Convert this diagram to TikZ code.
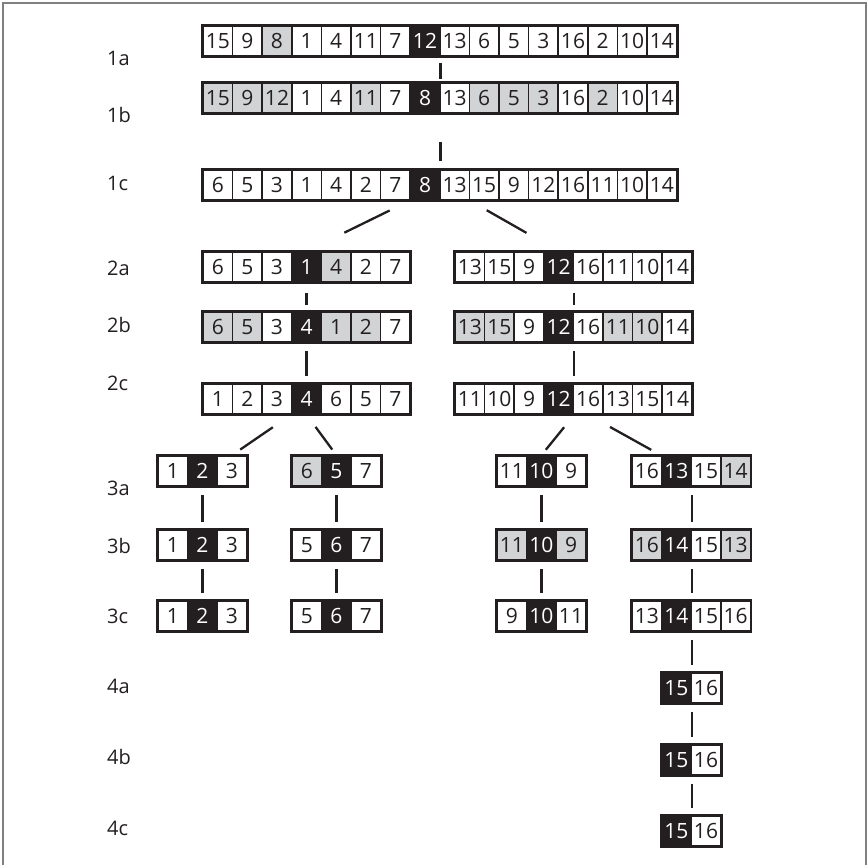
\documentclass[tikz,border=0pt]{standalone}
\usepackage{fontspec}
\setmainfont{Open Sans}
\usepackage{tikz}
\usetikzlibrary{positioning, calc}

\definecolor{ink}{HTML}{231F20}
\definecolor{shade}{HTML}{D1D3D4}
\definecolor{rulegray}{HTML}{808080}

\newcommand{\cw}{29.6}
% one array: name, left x, top y, list of value/kind
\newcommand{\cellrow}[4]{%
  \foreach \v/\k [count=\i] in {#4} {
    \node[cell, \k] (#1-\i) at ({#2+(\i-0.5)*\cw}, {#3+15}) {\v};
    \xdef\lastcell{\i}
  }
  \draw[arrbox] (#1-1.north west) rectangle (#1-\lastcell.south east);
}

\begin{document}
\begin{tikzpicture}[x=1pt, y=-1pt,
    cell/.style={draw=ink, line width=1.6pt, minimum width=\cw pt, minimum height=30pt,
      inner sep=0pt, text=ink, font=\fontsize{21}{24}\selectfont},
    pl/.style={fill=white},
    gr/.style={fill=shade},
    pv/.style={fill=ink, text=white},
    arrbox/.style={draw=ink, line width=2.4pt},
    lab/.style={anchor=west, inner sep=0pt, text=ink, font=\fontsize{20}{22}\selectfont},
    link/.style={draw=ink, line width=2.3pt},
    vlink/.style={link, shorten <=8pt, shorten >=7pt}]
\useasboundingbox (0,0) rectangle (868,865);
\draw[rulegray, line width=1.5pt] (3,870) -- (3,3) -- (866,3) -- (866,870);

% step labels
\node[lab] (l1a) at (107,58) {1a};
\node[lab] (l1b) at (107,115) {1b};
\node[lab] (l1c) at (107,183) {1c};
\node[lab] (l2a) at (107,268) {2a};
\node[lab] (l2b) at (107,325) {2b};
\node[lab] (l2c) at (107,383) {2c};
\node[lab] (l3a) at (107,488) {3a};
\node[lab] (l3b) at (107,546) {3b};
\node[lab] (l3c) at (107,616) {3c};
\node[lab] (l4a) at (107,686) {4a};
\node[lab] (l4b) at (107,757) {4b};
\node[lab] (l4c) at (107,828) {4c};

% level 1
\cellrow{r1a}{203}{26}{15/pl,9/pl,8/gr,1/pl,4/pl,11/pl,7/pl,12/pv,13/pl,6/pl,5/pl,3/pl,16/pl,2/pl,10/pl,14/pl}
\cellrow{r1b}{203}{83}{15/gr,9/gr,12/gr,1/pl,4/pl,11/gr,7/pl,8/pv,13/pl,6/gr,5/gr,3/gr,16/pl,2/gr,10/pl,14/pl}
\cellrow{r1c}{203}{170}{6/pl,5/pl,3/pl,1/pl,4/pl,2/pl,7/pl,8/pv,13/pl,15/pl,9/pl,12/pl,16/pl,11/pl,10/pl,14/pl}

% level 2
\cellrow{r2aL}{203}{252}{6/pl,5/pl,3/pl,1/pv,4/gr,2/pl,7/pl}
\cellrow{r2aR}{455}{252}{13/pl,15/pl,9/pl,12/pv,16/pl,11/pl,10/pl,14/pl}
\cellrow{r2bL}{203}{312}{6/gr,5/gr,3/pl,4/pv,1/gr,2/gr,7/pl}
\cellrow{r2bR}{455}{312}{13/gr,15/gr,9/pl,12/pv,16/pl,11/gr,10/gr,14/pl}
\cellrow{r2cL}{203}{384}{1/pl,2/pl,3/pl,4/pv,6/pl,5/pl,7/pl}
\cellrow{r2cR}{455}{384}{11/pl,10/pl,9/pl,12/pv,16/pl,13/pl,15/pl,14/pl}

% level 3
\cellrow{r3aA}{158}{456}{1/pl,2/pv,3/pl}
\cellrow{r3aB}{292}{456}{6/gr,5/pv,7/pl}
\cellrow{r3aC}{497}{456}{11/pl,10/pv,9/pl}
\cellrow{r3aD}{632}{456}{16/pl,13/pv,15/pl,14/gr}
\cellrow{r3bA}{158}{530}{1/pl,2/pv,3/pl}
\cellrow{r3bB}{292}{530}{5/pl,6/pv,7/pl}
\cellrow{r3bC}{497}{530}{11/gr,10/pv,9/gr}
\cellrow{r3bD}{632}{530}{16/gr,14/pv,15/pl,13/gr}
\cellrow{r3cA}{158}{601}{1/pl,2/pv,3/pl}
\cellrow{r3cB}{292}{601}{5/pl,6/pv,7/pl}
\cellrow{r3cC}{497}{601}{9/pl,10/pv,11/pl}
\cellrow{r3cD}{632}{601}{13/pl,14/pv,15/pl,16/pl}

% level 4
\cellrow{r4a}{661.6}{673}{15/pv,16/pl}
\cellrow{r4b}{661.6}{745}{15/pv,16/pl}
\cellrow{r4c}{661.6}{816}{15/pv,16/pl}

% connectors
\draw[link, shorten <=6pt, shorten >=3pt] (r1a-8.south east) -- (r1b-8.north east);
\draw[link, shorten <=28pt, shorten >=8pt] (r1b-8.south east) -- (r1c-8.north east);
\draw[link, shorten <=22pt, shorten >=42pt] (r1c-8.south west) -- (r2aL-4.north);
\draw[link, shorten <=19pt, shorten >=37pt] (r1c-9.south east) -- (r2aR-4.north);
\draw[link, shorten <=10pt, shorten >=6pt] (r2aL-4.south) -- (r2bL-4.north);
\draw[link, shorten <=10pt, shorten >=6pt] (r2aR-4.south east) -- (r2bR-4.north east);
\draw[vlink] (r2bL-4.south) -- (r2cL-4.north);
\draw[vlink] (r2bR-4.south east) -- (r2cR-4.north east);
\draw[link, shorten <=22pt, shorten >=10pt] (r2cL-4.south west) -- (r3aA-3.north);
\draw[link, shorten <=15pt, shorten >=7pt] (r2cL-4.south) -- (r3aB-2.north);
\draw[link, shorten <=16pt, shorten >=7pt] (r2cR-4.south east) -- (r3aC-2.north);
\draw[link, shorten <=25pt, shorten >=11pt] (r2cR-5.south) -- (r3aD-2.north west);
\foreach \c in {A,B,C} {
  \draw[vlink] (r3a\c-2.south) -- (r3b\c-2.north);
  \draw[vlink] (r3b\c-2.south) -- (r3c\c-2.north);
}
\draw[vlink] (r3aD-2.south east) -- (r3bD-2.north east);
\draw[vlink] (r3bD-2.south east) -- (r3cD-2.north east);
\draw[vlink] (r3cD-2.south east) -- (r4a-1.north east);
\draw[vlink] (r4a-1.south east) -- (r4b-1.north east);
\draw[vlink] (r4b-1.south east) -- (r4c-1.north east);
\end{tikzpicture}
\end{document}
